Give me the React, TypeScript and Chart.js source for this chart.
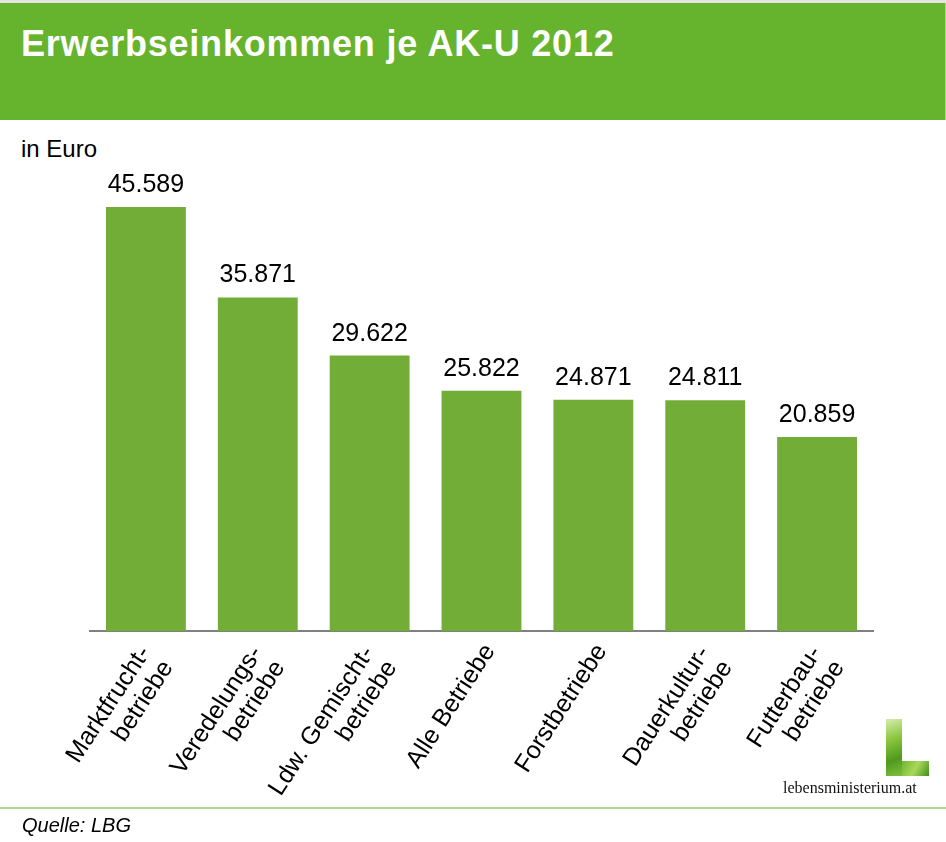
import React, { useEffect, useRef } from "react";
import { Chart, registerables } from "chart.js";

Chart.register(...registerables);

const categories: string[][] = [
  ["Marktfrucht-", "betriebe"],
  ["Veredelungs-", "betriebe"],
  ["Ldw. Gemischt-", "betriebe"],
  ["Alle Betriebe"],
  ["Forstbetriebe"],
  ["Dauerkultur-", "betriebe"],
  ["Futterbau-", "betriebe"],
];
const values: number[] = [45589, 35871, 29622, 25822, 24871, 24811, 20859];
const yMin = 0;
const yMax = 50000;

const title = "Erwerbseinkommen je AK-U 2012";
const unitLabel = "in Euro";
const sourceLabel = "Quelle: LBG";
const logoText = "lebensministerium.at";

const BAR_COLOR = "#72ad38";
const HEADER_COLOR = "#66b32e";
const FONT = "'Liberation Sans', Arial, Helvetica, sans-serif";
const LABEL_ROT = 57; // degrees
const LABEL_LINE = 27; // px between rotated lines

function formatDe(v: number): string {
  const s = Math.round(v).toString();
  return s.replace(/\B(?=(\d{3})+(?!\d))/g, ".");
}

const valueLabelPlugin = {
  id: "valueLabels",
  afterDatasetsDraw(chart: any) {
    const ctx = chart.ctx;
    const meta = chart.getDatasetMeta(0);
    ctx.save();
    ctx.font = `25px ${FONT}`;
    ctx.fillStyle = "#000";
    ctx.textAlign = "center";
    ctx.textBaseline = "alphabetic";
    meta.data.forEach((bar: any, i: number) => {
      const v = chart.data.datasets[0].data[i];
      ctx.fillText(formatDe(v), bar.x, bar.y - 15);
    });
    ctx.restore();
  },
};

// Rotated category labels, anchored on the x scale's tick positions
const rotatedTickPlugin = {
  id: "rotatedTicks",
  afterDraw(chart: any) {
    const ctx = chart.ctx;
    const scale = chart.scales.x;
    const rad = (LABEL_ROT * Math.PI) / 180;
    const px = Math.sin(rad);
    const py = Math.cos(rad);
    const top = scale.top;
    ctx.save();
    ctx.font = `25px ${FONT}`;
    ctx.fillStyle = "#000";
    ctx.textAlign = "right";
    ctx.textBaseline = "alphabetic";
    (chart.data.labels as string[][]).forEach((lines, i) => {
      const tick = scale.getPixelForTick(i);
      let bx: number;
      let by: number;
      if (lines.length === 1) {
        bx = tick + 14;
        by = top + 19.5;
      } else {
        bx = tick + 5;
        by = top + 21.5;
      }
      lines.forEach((line, k) => {
        const x = bx + k * LABEL_LINE * px;
        const y = by + k * LABEL_LINE * py;
        ctx.save();
        ctx.translate(x, y);
        ctx.rotate(-rad);
        ctx.fillText(line, 0, 0);
        ctx.restore();
      });
    });
    ctx.restore();
  },
};

export default function App() {
  const canvasRef = useRef<HTMLCanvasElement | null>(null);

  useEffect(() => {
    const canvas = canvasRef.current;
    if (!canvas) return;
    const chart = new Chart(canvas, {
      type: "bar",
      data: {
        labels: categories,
        datasets: [
          {
            data: values,
            backgroundColor: BAR_COLOR,
            borderWidth: 0,
            categoryPercentage: 1,
            barPercentage: 0.714,
          },
        ],
      },
      options: {
        animation: false,
        responsive: false,
        maintainAspectRatio: false,
        layout: { padding: { left: 90, right: 73, top: 166, bottom: 0 } },
        plugins: {
          legend: { display: false },
          tooltip: { enabled: false },
          title: { display: false },
        },
        scales: {
          x: {
            grid: { display: false, drawTicks: false },
            border: { display: true, color: "#808080", width: 2 },
            ticks: { display: false },
            afterFit: (scale: any) => {
              scale.height = 211;
            },
          },
          y: {
            display: false,
            min: yMin,
            max: yMax,
          },
        },
      },
      plugins: [valueLabelPlugin, rotatedTickPlugin],
    });
    return () => chart.destroy();
  }, []);

  return (
    <div
      style={{
        position: "absolute",
        left: 0,
        top: 0,
        width: 946,
        height: 842,
        background: "#fff",
        overflow: "hidden",
        fontFamily: FONT,
      }}
    >
      <div style={{ position: "absolute", left: 0, top: 0, width: 946, height: 3, background: "#e4e4e4" }} />
      <div style={{ position: "absolute", left: 0, top: 3, width: 945, height: 117, background: HEADER_COLOR }} />
      <div style={{ position: "absolute", left: 945, top: 3, width: 1, height: 117, background: "#a9d88e" }} />
      <div
        style={{
          position: "absolute",
          left: 21,
          top: 26,
          fontSize: 36,
          lineHeight: "36px",
          letterSpacing: "0.78px",
          fontWeight: "bold",
          color: "#fff",
          whiteSpace: "nowrap",
        }}
      >
        {title}
      </div>
      <div
        style={{
          position: "absolute",
          left: 21,
          top: 137,
          fontSize: 24,
          lineHeight: "24px",
          color: "#000",
          whiteSpace: "nowrap",
        }}
      >
        {unitLabel}
      </div>
      <canvas
        ref={canvasRef}
        width={946}
        height={842}
        style={{ position: "absolute", left: 0, top: 0, width: 946, height: 842 }}
      />
      <div
        style={{
          position: "absolute",
          left: 886,
          top: 719,
          width: 16,
          height: 57,
          background: "linear-gradient(160deg, #d7ecb0 0%, #8cc63f 35%, #4e9a1e 70%, #7fbf3a 100%)",
        }}
      />
      <div
        style={{
          position: "absolute",
          left: 902,
          top: 761,
          width: 27,
          height: 15,
          background: "linear-gradient(120deg, #6fb52f 0%, #a8d85a 50%, #3f8f1a 100%)",
        }}
      />
      <div
        style={{
          position: "absolute",
          left: 783,
          top: 780,
          fontFamily: "'Liberation Serif', 'Times New Roman', serif",
          fontSize: 16,
          lineHeight: "16px",
          color: "#111",
          whiteSpace: "nowrap",
        }}
      >
        {logoText}
      </div>
      <div style={{ position: "absolute", left: 0, top: 807, width: 946, height: 2, background: "#a9d88e" }} />
      <div
        style={{
          position: "absolute",
          left: 22,
          top: 815,
          fontSize: 20,
          lineHeight: "20px",
          fontStyle: "italic",
          color: "#000",
          whiteSpace: "nowrap",
        }}
      >
        {sourceLabel}
      </div>
    </div>
  );
}
